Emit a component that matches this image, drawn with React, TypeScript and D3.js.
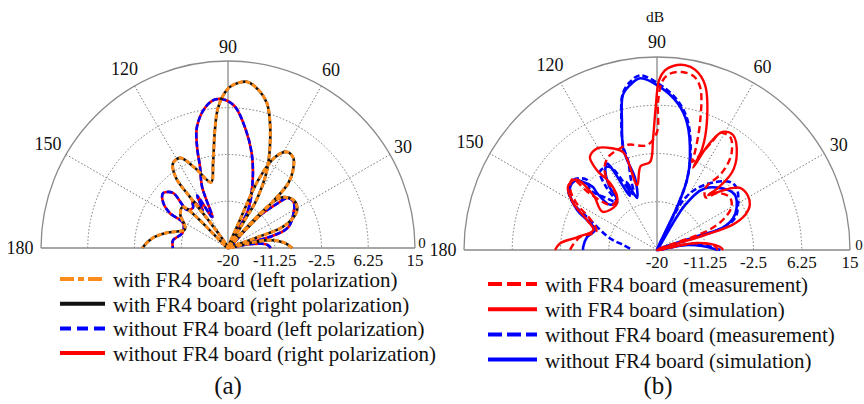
import React, { useEffect, useRef } from 'react'
import * as d3 from 'd3'

type Pt = [number, number] // [angle in degrees, level in dB]

const angleTicks = [0, 30, 60, 90, 120, 150, 180]
const dbTicks = [-20, -11.25, -2.5, 6.25, 15]

// panel (a)
const withFR4: Pt[] = [
  [0, -8.0], [5, -9.3], [10, -11.6], [12.5, -14.8], [15, -20],
  [20, -14.0], [21, -9.1], [25, -6.5], [29, -5.2], [36, -4.8], [44, -6.5], [44.5, -20],
  [46, -8], [47, -3.5], [50, -1.1], [54, 0.8], [58.4, 1.1], [62.7, -0.9], [66, -6.1], [67, -14.4], [66, -20],
  [59, -13.8], [59, -10.2], [61, -6.9], [63.4, -3.7], [67.4, 0.4], [72, 5.3], [75, 8.1], [79, 10.1],
  [83.5, 11.3], [87.6, 10.7], [90.4, 9.6], [94, 6.4], [96.3, 2.3], [100, -3.9], [104.4, -7.3],
  [112.4, -3.8], [118, -0.9], [123, -1.1], [126.6, -3.7], [126.7, -8.0], [125, -14], [125, -20],
  [137.7, -8.6], [145, -9.1], [152, -10.8], [157, -11.2], [166, -8.2], [172.4, -5.8], [179.3, -4.1], [180, -4],
]
const withoutFR4: Pt[] = [
  [0, -12], [4, -12.5], [7, -13.5], [10, -16], [12, -20],
  [14, -16], [15.5, -10.9], [19, -8.1], [28, -6.1], [35, -5], [40, -5.4], [42, -7.5], [46, -12], [47, -20],
  [62, -12], [70, -6.5], [76, -1.7], [82, 2.8], [87, 6.4], [91, 7.7], [95, 7.9], [99.3, 6.6], [104.4, 3.4],
  [107, -0.2], [109, -3.9], [113, -7.6], [117, -13.5], [120.5, -8.6], [124, -11.5], [127, -9], [131, -10],
  [137, -9.5], [135, -5.4], [140, -4.1], [145, -5.2], [149, -7.3], [151, -10.4], [162, -11], [172, -9.6], [180, -9.7],
]

// panel (b)
const withMeas: Pt[] = [
  [0, -9], [4, -9.5], [10, -13], [14, -20],
  [21, -10], [25, -6.6], [30, -4.4], [36, -3.7], [43.5, -5], [47, -7],
  [52, -5.8], [50, -2.2], [50.5, 0], [52.6, 2.3], [57, 4.4], [61.7, 4.1], [63, 2], [68.3, -2.8],
  [68.8, -1.0], [71.4, 4.5], [75, 10.4], [78, 12.2], [82, 12.6], [86, 12], [88.3, 10.5], [89.6, 6.8], [90, 1.4],
  [95.4, -0.9], [105.4, -0.2], [112, -0.5], [118, -1], [123, -2.5], [126, -5], [127, -8], [135, -8.5],
  [140, -4], [140, 0], [145, -0.8], [150, -3.2], [156, -7], [163, -8.5], [170, -6], [176, -4.8], [180, -4.2],
]
const withSim: Pt[] = [
  [0, -8], [3, -8.6], [10, -12.6], [14, -20],
  [17.4, -10.9], [18.4, -5.7], [21.7, -2.8], [25.8, -1.3], [31, -0.8], [36.8, -1.2], [39.6, -2.4], [43.6, -4.8], [47, -6.4],
  [45.5, -4.2], [46, -0.4], [50, 2.5], [56.5, 5.0], [61, 4.5], [64, 1.2], [66.3, -3.7],
  [66, 0.2], [68.7, 4.9], [73.8, 11.2], [78, 13.4], [81.4, 13.9], [85, 13.5], [87.5, 12.6], [89.3, 10.8], [90.5, 6],
  [92, 0.3], [94.5, -4.0], [101, -4.5], [107, -7.7],
  [109, -1.3], [114, 0.2], [120.5, 1.4], [125.8, 0.8], [127, -1.9], [125, -5.1], [127, -8.0], [133, -9],
  [145, -7.9], [139.3, -4.8], [139, -0.5], [144.7, -0.2], [150.8, -2.6], [156.8, -6.2], [162.6, -7.9],
  [171, -5.3], [176, -2.4], [180, -1.5],
]
const withoutMeas: Pt[] = [
  [0, -8.5], [5, -11], [10, -14], [13, -20],
  [18.7, -7.5], [22.3, -4.7], [29, -3.2], [37.8, -1.7], [43, -1.9], [53.6, -5.3], [61.7, -9.3], [63, -20],
  [65, -11], [67, -6], [70.5, -1.8], [76.5, 4], [82, 7.3], [89, 10], [95.6, 11.8], [99.3, 10.8], [102.4, 9],
  [105.3, 4.5], [108, 0], [108, -3], [110, -6], [113, -9],
  [118.8, -3], [121, -2.4], [126, -2.4], [129, -5.5], [130, -8.8], [134, -7],
  [138, -3.7], [135, -2], [140, -0.2], [146, -0.6], [150.8, -2.6], [154.8, -6], [159, -8.4],
  [166, -11.2], [171.6, -13.8], [180, -15.6],
]
const withoutSim: Pt[] = [
  [0, -9], [5, -11.8], [10, -15], [13, -20],
  [18.9, -12.7], [18.7, -7.5], [22.8, -5.0], [27.7, -3.7], [35, -2.7], [40, -3.1], [52, -5.8], [58, -10.4], [60, -20],
  [65, -11.4], [66.8, -6.2], [70.5, -2.1], [76.7, 3.7], [82, 6.9], [89, 9.6], [95.6, 11.3], [99.3, 10.3],
  [102.4, 8.8], [105.3, 4.1], [108.4, -0.5], [108.2, -3.2], [107, -6.4], [111, -9.9],
  [114, -6.5], [116.5, -9], [119, -3], [120, -1.9], [123, -2.8], [127, -5.7], [128.7, -8.4], [136, -8.2],
  [136.5, -5], [135.5, -3.7], [137.4, -1.8], [138.8, -0.8], [141.8, -0.4], [146.8, -1.1], [153.4, -3.8],
  [156.8, -6.2], [162, -8.2], [169.5, -7.1], [177.7, -6.6], [180, -6.6],
]

const legendA = [
  'with FR4 board (left polarization)',
  'with FR4 board (right polarization)',
  'without FR4 board (left polarization)',
  'without FR4 board (right polarization)',
]
const legendB = [
  'with FR4 board (measurement)',
  'with FR4 board (simulation)',
  'without FR4 board (measurement)',
  'without FR4 board (simulation)',
]

const FONT = '"Liberation Serif", "Times New Roman", serif'
const ORANGE = '#ff8c1a'
const RED = '#ff0000'
const BLUE = '#0000ff'

function drawPanel(svg: any, cx: number, cy: number, R: number, labelPad: Record<number, number>,
  series: { data: Pt[]; color: string; width: number; dash: string | null }[]) {
  const g = svg.append('g').attr('transform', `translate(${cx},${cy})`)
  const r = d3.scaleLinear().domain([-20, 15]).range([0, R]).clamp(true)
  const ang = d3.scaleLinear().domain([0, 180]).range([Math.PI / 2, -Math.PI / 2])
  const rad = (deg: number) => (deg * Math.PI) / 180

  // rings
  dbTicks.slice(1).forEach(v => {
    const p = d3.path()
    p.moveTo(-r(v), 0)
    p.arc(0, 0, r(v), Math.PI, 2 * Math.PI)
    g.append('path').attr('d', p.toString()).attr('fill', 'none')
      .attr('stroke', v === 15 ? '#8a8a8a' : '#777')
      .attr('stroke-width', v === 15 ? 1.3 : 1)
      .attr('stroke-dasharray', v === 15 ? null : '1.5,2')
  })
  // spokes
  angleTicks.filter(t => t > 0 && t < 180).forEach(t => {
    g.append('line').attr('x1', 0).attr('y1', 0)
      .attr('x2', R * Math.cos(rad(t))).attr('y2', -R * Math.sin(rad(t)))
      .attr('stroke', t === 90 ? '#8a8a8a' : '#777')
      .attr('stroke-width', t === 90 ? 1.3 : 1)
      .attr('stroke-dasharray', t === 90 ? null : '1.5,2')
  })
  g.append('line').attr('x1', -R).attr('x2', R).attr('y1', 0).attr('y2', 0)
    .attr('stroke', '#8a8a8a').attr('stroke-width', 1.3)

  // angle labels (the 0 sits a little above the baseline, as in the original)
  angleTicks.forEach(t => {
    const rl = R + labelPad[t]
    g.append('text').attr('x', rl * Math.cos(rad(t))).attr('y', -rl * Math.sin(rad(t)) - (t === 0 ? 5 : 0))
      .attr('text-anchor', 'middle').attr('dominant-baseline', 'central')
      .attr('font-family', FONT).attr('font-size', t === 0 ? 15 : 18).attr('fill', '#111')
      .text(t)
  })
  // dB labels
  dbTicks.forEach(v => {
    g.append('text').attr('x', r(v)).attr('y', 12)
      .attr('text-anchor', 'middle').attr('dominant-baseline', 'central')
      .attr('font-family', FONT).attr('font-size', 17).attr('fill', '#111')
      .text(String(v))
  })

  const line = d3.lineRadial<Pt>()
    .angle(d => ang(d[0]))
    .radius(d => r(d[1]))
    .curve(d3.curveCatmullRom.alpha(0.5))

  series.forEach(s => {
    g.append('path').attr('d', line(s.data)).attr('fill', 'none')
      .attr('stroke', s.color).attr('stroke-width', s.width)
      .attr('stroke-dasharray', s.dash).attr('stroke-linejoin', 'round')
  })
  return g
}

function drawLegend(svg: any, x: number, y0: number, step: number, len: number, labels: string[],
  styles: { color: string; dash: string | null }[]) {
  labels.forEach((label, i) => {
    const y = y0 + i * step
    svg.append('line').attr('x1', x).attr('x2', x + len).attr('y1', y).attr('y2', y)
      .attr('stroke', styles[i].color).attr('stroke-width', 4).attr('stroke-dasharray', styles[i].dash)
    svg.append('text').attr('x', x + len + 8).attr('y', y + 1)
      .attr('dominant-baseline', 'central').attr('font-family', FONT).attr('font-size', 21)
      .attr('fill', '#111').text(label)
  })
}

export default function App() {
  const ref = useRef<SVGSVGElement>(null)

  useEffect(() => {
    const svg = d3.select(ref.current)
    svg.selectAll('*').remove()
    svg.append('rect').attr('width', 864).attr('height', 404).attr('fill', '#fff')

    drawPanel(svg, 228, 248, 187, { 0: 7, 30: 15, 60: 19, 90: 14, 120: 20, 150: 21, 180: 21 }, [
      { data: withoutFR4, color: RED, width: 2.6, dash: null },
      { data: withoutFR4, color: BLUE, width: 2.6, dash: '6,2.5' },
      { data: withFR4, color: '#111', width: 2.6, dash: null },
      { data: withFR4, color: ORANGE, width: 3, dash: '5,2.5' },
    ])
    const gb = drawPanel(svg, 657, 250, 193, { 0: 9, 30: 17, 60: 18, 90: 15, 120: 21, 150: 23, 180: 21 }, [
      { data: withoutMeas, color: BLUE, width: 2.6, dash: '6,3' },
      { data: withoutSim, color: BLUE, width: 2.6, dash: null },
      { data: withMeas, color: RED, width: 2.4, dash: '7,4' },
      { data: withSim, color: RED, width: 2.4, dash: null },
    ])
    gb.append('text').attr('x', -2).attr('y', -234).attr('text-anchor', 'middle')
      .attr('dominant-baseline', 'central').attr('font-family', FONT).attr('font-size', 15.5)
      .attr('fill', '#111').text('dB')

    drawLegend(svg, 60, 279, 24.7, 45, legendA, [
      { color: ORANGE, dash: '14,4,6,4' },
      { color: '#111', dash: null },
      { color: BLUE, dash: '11,6' },
      { color: RED, dash: null },
    ])
    drawLegend(svg, 488, 284, 25.2, 49, legendB, [
      { color: RED, dash: '14,5' },
      { color: RED, dash: null },
      { color: BLUE, dash: '14,5' },
      { color: BLUE, dash: null },
    ])

    svg.append('text').attr('x', 228).attr('y', 385).attr('text-anchor', 'middle')
      .attr('dominant-baseline', 'central').attr('font-family', FONT).attr('font-size', 25)
      .attr('fill', '#111').text('(a)')
    svg.append('text').attr('x', 658).attr('y', 385).attr('text-anchor', 'middle')
      .attr('dominant-baseline', 'central').attr('font-family', FONT).attr('font-size', 25)
      .attr('fill', '#111').text('(b)')
  }, [])

  return (
    <svg ref={ref} width={864} height={404}
      style={{ position: 'absolute', left: 0, top: 0, display: 'block' }} />
  )
}
